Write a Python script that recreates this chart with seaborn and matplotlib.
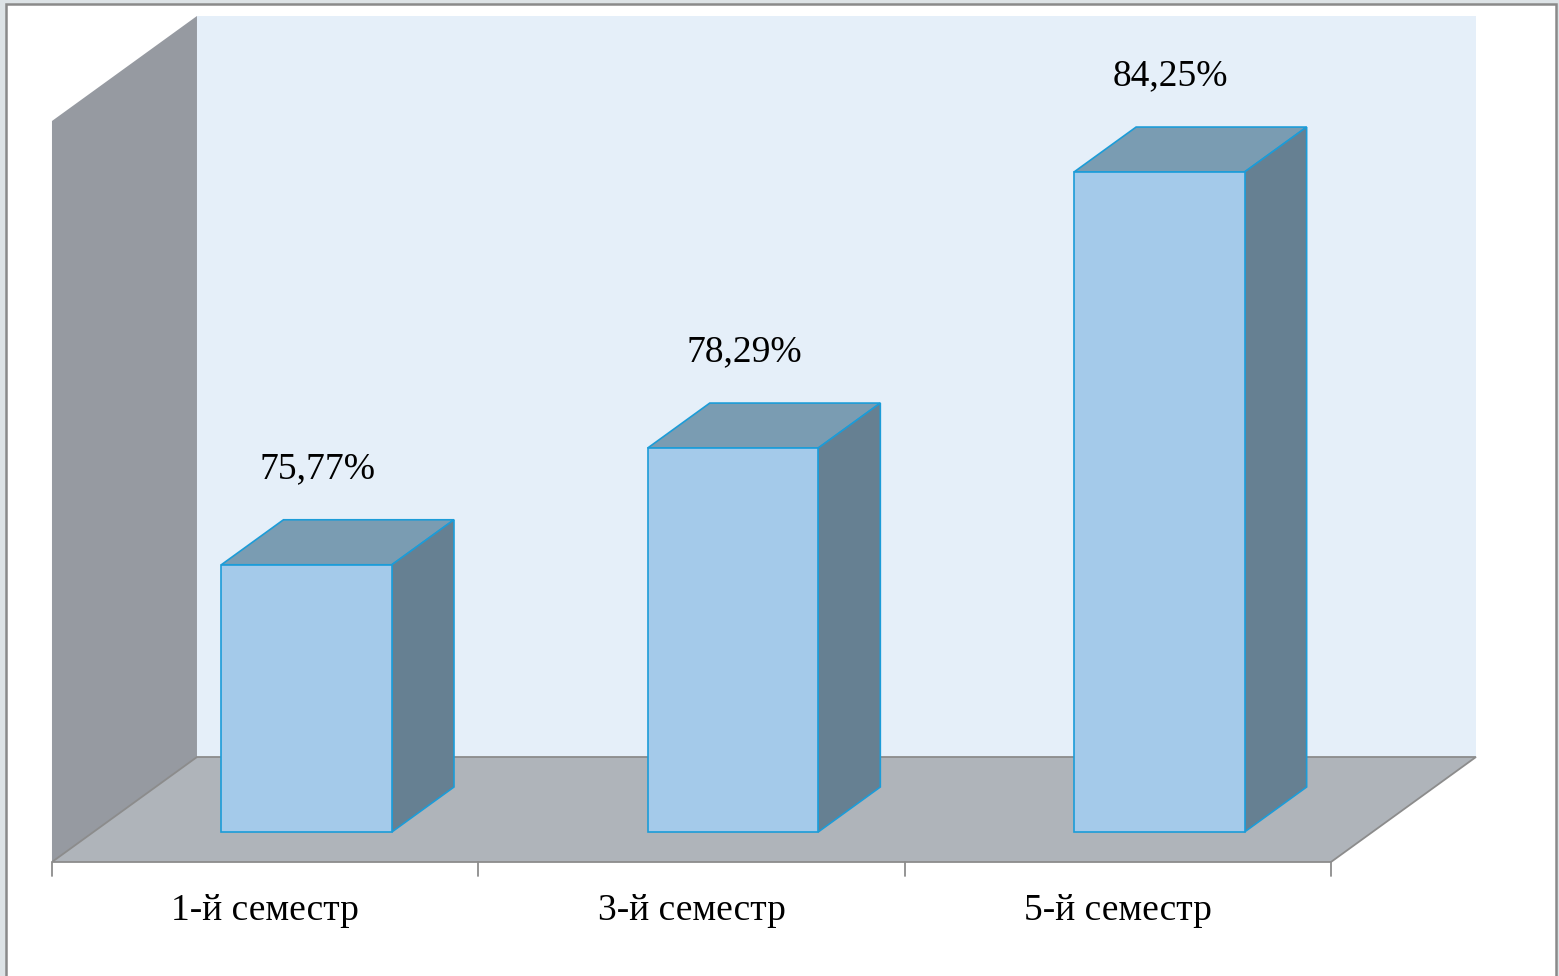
import matplotlib
matplotlib.use('Agg')
import pandas as pd
import matplotlib.pyplot as plt
import seaborn as sns
from matplotlib.patches import Polygon, Rectangle
from matplotlib.lines import Line2D

# chart data
semesters = ['1-й семестр', '3-й семестр', '5-й семестр']
values = [75.77, 78.29, 84.25]
value_labels = ['75,77%', '78,29%', '84,25%']
y_min, y_max = 70, 86

df = pd.DataFrame({'semester': semesters, 'value': values})

sns.set_style('white')
plt.rcParams['font.family'] = ['Liberation Serif', 'DejaVu Serif']

W, H = 1559, 976
fig = plt.figure(figsize=(W / 100, H / 100), dpi=100)
fig.patch.set_facecolor('#DDE3E6')
fig.add_artist(Rectangle((6 / W, -0.01), 1550 / W, (H - 4) / H + 0.01,
                         transform=fig.transFigure, facecolor='white',
                         edgecolor='#8A8A8A', lw=1.8, zorder=0))

# axes = front plane of the bars
ax = fig.add_axes([93.4 / W, 144 / H, 1279 / W, 741 / H])
ax.set_axis_off()

# depth of the 3d box (axes units), bar front sits at d0
DX, DY = 145 / 1279, 105 / 741
d0 = 30 / 105
bar_depth = 45 / 105


def pt(x, y, d):
    return (x + (d - d0) * DX, y + (d - d0) * DY)


sns.barplot(data=df, x='semester', y='value', width=0.4, color='#A4CAEA',
            saturation=1, edgecolor='#1C9CD8', linewidth=1.2, ax=ax, zorder=3)
ax.set_xlim(-0.5, len(semesters) - 0.5)
ax.set_ylim(y_min, y_max)
bars = list(ax.containers[0])

# walls and floor
back = Polygon([pt(0, 0, 1), pt(1, 0, 1), pt(1, 1, 1), pt(0, 1, 1)],
               closed=True, transform=ax.transAxes, facecolor='#E5EFF9',
               edgecolor='none', clip_on=False, zorder=0)
side = Polygon([pt(0, 0, 0), pt(0, 1, 0), pt(0, 1, 1), pt(0, 0, 1)],
               closed=True, transform=ax.transAxes, facecolor='#969AA1',
               edgecolor='none', clip_on=False, zorder=0.5)
floor = Polygon([pt(0, 0, 0), pt(1, 0, 0), pt(1, 0, 1), pt(0, 0, 1)],
                closed=True, transform=ax.transAxes, facecolor='#AFB4BA',
                edgecolor='#8C8C8C', lw=1.3, clip_on=False, zorder=0.6)
for p in (back, side, floor):
    ax.add_patch(p)

to_axes = ax.transData + ax.transAxes.inverted()
edge = '#1C9CD8'
for bar, lab in zip(bars, value_labels):
    bar.set_clip_on(False)
    bar.set_bounds(bar.get_x(), y_min, bar.get_width(), bar.get_height() - y_min)
    x0, x1 = bar.get_x(), bar.get_x() + bar.get_width()
    top = y_min + bar.get_height()
    (ax0, ay0), (ax1, ay1) = to_axes.transform([(x0, y_min), (x1, top)])
    ox, oy = bar_depth * DX, bar_depth * DY
    top_face = Polygon([(ax0, ay1), (ax1, ay1), (ax1 + ox, ay1 + oy), (ax0 + ox, ay1 + oy)],
                       closed=True, transform=ax.transAxes, facecolor='#7A9CB2',
                       edgecolor=edge, lw=1.2, clip_on=False, zorder=2.5)
    side_face = Polygon([(ax1, ay0), (ax1, ay1), (ax1 + ox, ay1 + oy), (ax1 + ox, ay0 + oy)],
                        closed=True, transform=ax.transAxes, facecolor='#668092',
                        edgecolor=edge, lw=1.2, clip_on=False, zorder=2.5)
    ax.add_patch(top_face)
    ax.add_patch(side_face)
    ax.annotate(lab, xy=((x0 + x1) / 2, top), xytext=(11, 96),
                textcoords='offset pixels', ha='center', va='center',
                fontsize=27, color='black', annotation_clip=False)

# category ticks and labels on the front edge of the floor
n = len(semesters)
for i in range(n + 1):
    fx, fy = pt(i / n, 0, 0)
    ax.add_line(Line2D([fx, fx], [fy, fy - 14 / 741], transform=ax.transAxes,
                       color='#8C8C8C', lw=1.3, clip_on=False))
for i, name in enumerate(semesters):
    fx, fy = pt((i + 0.5) / n, 0, 0)
    ax.text(fx, fy - 49 / 741, name, transform=ax.transAxes, ha='center',
            va='center', fontsize=27, color='black')

fig.savefig('out.png', dpi=100)
